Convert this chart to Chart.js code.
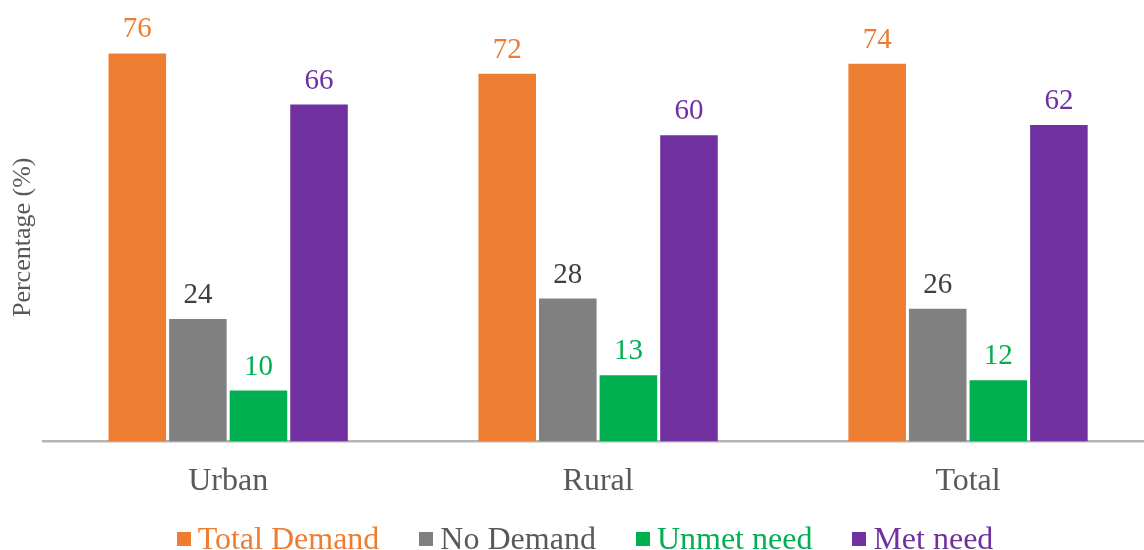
<!DOCTYPE html>
<html lang="en">
<head>
  <meta charset="UTF-8">
  <title>Demand for family planning</title>
  <script src="https://cdn.jsdelivr.net/npm/chart.js"></script>
  <style>
    html, body {
      margin: 0;
      padding: 0;
      background: #fff;
      overflow: hidden;
      font-family: "Liberation Serif", "Times New Roman", serif;
    }
    .wrap {
      width: 1155px;
      height: 522px;
    }
    .legend {
      position: absolute;
      left: 0;
      top: 522px;
      width: 1144px;
      box-sizing: border-box;
      padding-left: 26px;
      display: flex;
      justify-content: center;
      gap: 40px;
      font-size: 32px;
      line-height: 32px;
    }
    .legend span.item {
      display: flex;
      align-items: center;
      white-space: nowrap;
    }
    .legend i {
      display: inline-block;
      width: 14px;
      height: 14px;
      margin-right: 7px;
      position: relative;
      top: 1px;
    }
  </style>
</head>
<body>
<div class="wrap">
  <canvas id="demandChart"></canvas>
</div>
<div class="legend" id="legend"></div>

<script>
  const categories = ['Urban', 'Rural', 'Total'];
  const seriesNames = ['Total Demand', 'No Demand', 'Unmet need', 'Met need'];
  const totalDemand = [76, 72, 74];
  const noDemand = [24, 28, 26];
  const unmetNeed = [10, 13, 12];
  const metNeed = [66, 60, 62];

  const seriesColors = ['#ED7D31', '#808080', '#00B050', '#7030A0'];
  const labelColors = ['#ED7D31', '#404040', '#00B050', '#7030A0'];
  const legendColors = ['#ED7D31', '#595959', '#00B050', '#7030A0'];

  // value labels above each bar
  const barValues = {
    id: 'barValues',
    afterDatasetsDraw(chart) {
      const ctx = chart.ctx;
      ctx.save();
      ctx.font = '29px "Liberation Serif", "Times New Roman", serif';
      ctx.textAlign = 'center';
      ctx.textBaseline = 'alphabetic';
      chart.data.datasets.forEach((ds, i) => {
        const meta = chart.getDatasetMeta(i);
        ctx.fillStyle = labelColors[i];
        meta.data.forEach((bar, j) => {
          ctx.fillText(ds.data[j], bar.x, bar.y - 16);
        });
      });
      ctx.restore();
    }
  };

  const ctx = document.getElementById('demandChart').getContext('2d');
  const chart = new Chart(ctx, {
    type: 'bar',
    data: {
      labels: categories,
      datasets: [
        { label: seriesNames[0], data: totalDemand, backgroundColor: seriesColors[0] },
        { label: seriesNames[1], data: noDemand, backgroundColor: seriesColors[1] },
        { label: seriesNames[2], data: unmetNeed, backgroundColor: seriesColors[2] },
        { label: seriesNames[3], data: metNeed, backgroundColor: seriesColors[3] }
      ]
    },
    options: {
      responsive: true,
      maintainAspectRatio: false,
      animation: false,
      layout: { padding: { top: 33, left: 0, right: 2, bottom: 0 } },
      datasets: {
        bar: { categoryPercentage: 0.655, barPercentage: 0.95 }
      },
      plugins: {
        tooltip: { enabled: false },
        legend: { display: false }
      },
      scales: {
        x: {
          grid: { display: false, drawTicks: false },
          border: { color: '#B4B4B4', width: 2.5 },
          ticks: {
            color: '#595959',
            padding: 21,
            font: { family: '"Liberation Serif", serif', size: 32 }
          }
        },
        y: {
          min: 0,
          max: 80,
          grid: { display: false, drawTicks: false },
          border: { display: false },
          ticks: { display: false },
          title: {
            display: true,
            text: 'Percentage (%)',
            color: '#595959',
            padding: { top: 8, bottom: 4 },
            font: { family: '"Liberation Serif", serif', size: 26 }
          }
        }
      }
    },
    plugins: [barValues]
  });

  // legend built from the dataset list
  const legendEl = document.getElementById('legend');
  chart.data.datasets.forEach((ds, i) => {
    const item = document.createElement('span');
    item.className = 'item';
    item.style.color = legendColors[i];
    const box = document.createElement('i');
    box.style.background = seriesColors[i];
    item.appendChild(box);
    item.appendChild(document.createTextNode(ds.label));
    legendEl.appendChild(item);
  });
</script>
</body>
</html>
